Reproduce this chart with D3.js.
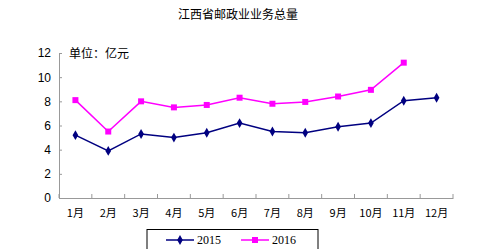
<!DOCTYPE html>
<html>
<head>
<meta charset="utf-8">
<script src="https://cdn.jsdelivr.net/npm/d3@7"></script>
<style>
body { margin: 0; background: #fff; }
text { font-family: "Noto Sans CJK SC", sans-serif; }
</style>
</head>
<body>
<div id="chart"></div>
<script>
var months = ["1月","2月","3月","4月","5月","6月","7月","8月","9月","10月","11月","12月"];
var values2015 = [5.2, 3.9, 5.3, 5.0, 5.4, 6.2, 5.5, 5.4, 5.9, 6.2, 8.05, 8.3];
var values2016 = [8.1, 5.5, 8.0, 7.5, 7.7, 8.3, 7.8, 7.95, 8.4, 8.95, 11.2];
var yTicks = [0, 2, 4, 6, 8, 10, 12];

var width = 484, height = 249;
var svg = d3.select('#chart').append('svg')
    .attr('width', width)
    .attr('height', height);

var x = d3.scaleBand().domain(months).range([59, 453]);
var y = d3.scaleLinear().domain([0, 12]).range([198, 53]);

// title
svg.append('text')
    .attr('x', 238).attr('y', 19)
    .attr('text-anchor', 'middle')
    .style('font-size', '12px')
    .text('江西省邮政业业务总量');

// y axis
var yAxisG = svg.append('g')
    .attr('transform', 'translate(59,0)')
    .call(d3.axisLeft(y).tickValues(yTicks).tickSize(-3).tickPadding(8));
yAxisG.select('.domain').attr('stroke', '#999');
yAxisG.selectAll('.tick line').attr('stroke', '#999');
yAxisG.selectAll('text')
    .style('font-family', 'Liberation Sans, Arial, sans-serif')
    .style('font-size', '12px').attr('fill', '#000');

// x axis
var xAxisG = svg.append('g')
    .attr('transform', 'translate(0,198)')
    .call(d3.axisBottom(x).tickSize(0).tickPadding(11));
xAxisG.select('.domain').attr('stroke', '#999');
xAxisG.selectAll('text').style('font-size', '11px').attr('fill', '#000');

// x tick marks at band edges, pointing up
var edges = months.map(function(m) { return x(m) }).concat([x.range()[1]]);
svg.append('g').selectAll('line')
    .data(edges)
    .enter()
    .append('line')
    .attr('x1', function(d) { return d }).attr('x2', function(d) { return d })
    .attr('y1', 198).attr('y2', 194)
    .attr('stroke', '#999');

// unit label
svg.append('text')
    .attr('x', 69).attr('y', 58)
    .style('font-size', '12px')
    .text('单位：亿元');

var cx = function(d, i) { return x(months[i]) + x.bandwidth() / 2 };
var line = d3.line()
    .x(function(d, i) { return cx(d, i) })
    .y(function(d) { return y(d) });

var navy = '#000080', magenta = '#ff00ff';

svg.append('path').datum(values2015)
    .attr('d', line).attr('fill', 'none')
    .attr('stroke', navy).attr('stroke-width', 1.5);
svg.append('path').datum(values2016)
    .attr('d', line).attr('fill', 'none')
    .attr('stroke', magenta).attr('stroke-width', 1.5);

var diamond = d3.symbol().type(d3.symbolDiamond).size(28);
var square = d3.symbol().type(d3.symbolSquare).size(36);

svg.append('g').selectAll('path')
    .data(values2015).enter().append('path')
    .attr('d', diamond)
    .attr('transform', function(d, i) { return 'translate(' + cx(d, i) + ',' + y(d) + ')' })
    .attr('fill', navy);
svg.append('g').selectAll('path')
    .data(values2016).enter().append('path')
    .attr('d', square)
    .attr('transform', function(d, i) { return 'translate(' + cx(d, i) + ',' + y(d) + ')' })
    .attr('fill', magenta);

// legend
var legend = svg.append('g');
legend.append('rect')
    .attr('x', 147).attr('y', 229.5).attr('width', 171).attr('height', 30)
    .attr('fill', '#fff').attr('stroke', '#000');

var legendItems = [
    { label: '2015', color: navy, sym: diamond, x: 166 },
    { label: '2016', color: magenta, sym: square, x: 241 }
];
legendItems.forEach(function(it) {
    legend.append('line')
        .attr('x1', it.x).attr('x2', it.x + 28)
        .attr('y1', 240).attr('y2', 240)
        .attr('stroke', it.color).attr('stroke-width', 1.5);
    legend.append('path')
        .attr('d', it.sym)
        .attr('transform', 'translate(' + (it.x + 14) + ',240)')
        .attr('fill', it.color);
    legend.append('text')
        .attr('x', it.x + 31).attr('y', 244)
        .style('font-family', 'Liberation Serif, serif')
        .style('font-size', '12px')
        .text(it.label);
});
</script>
</body>
</html>
